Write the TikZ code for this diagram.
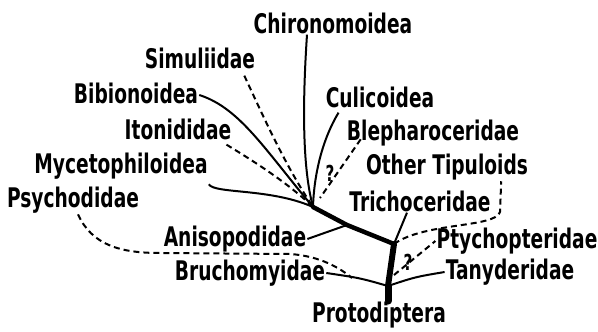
\documentclass[tikz,border=0pt]{standalone}
\usepackage{fontspec}
\setmainfont{DejaVu Sans}[FakeStretch=0.69]
\begin{document}
\begin{tikzpicture}[x=1pt,y=-1pt, every node/.style={font=\fontsize{27}{31}\selectfont\bfseries,inner sep=1pt},
  stem/.style={line width=6pt,line cap=round},
  bough/.style={line width=4.5pt,line cap=round,line join=round},
  twig/.style={line width=2pt},
  guess/.style={line width=2pt,dash pattern=on 6pt off 4pt},
  qm/.style={font=\fontsize{22}{26}\selectfont\bfseries}]
  \useasboundingbox (0,0) rectangle (598,332);
  % labels
  \node (chiro) at (333,23) {Chironomoidea};
  \node (simu) at (200,58) {Simuliidae};
  \node (bibio) at (136,93) {Bibionoidea};
  \node (culi) at (380,97) {Culicoidea};
  \node (itoni) at (178,129) {Itonididae};
  \node (bleph) at (433,133) {Blepharoceridae};
  \node (myceto) at (121,166) {Mycetophiloidea};
  \node (other) at (447,167) {Other Tipuloids};
  \node (psycho) at (73,200) {Psychodidae};
  \node (tricho) at (420,201) {Trichoceridae};
  \node (aniso) at (235,239) {Anisopodidae};
  \node (ptycho) at (517,241) {Ptychopteridae};
  \node (bruch) at (250,273) {Bruchomyidae};
  \node (tany) at (510,272) {Tanyderidae};
  \node (proto) at (379,315) {Protodiptera};
  \node[qm] (qa) at (330,173) {?};
  \node[qm] (qb) at (408,262) {?};
  % branch points
  \coordinate (root) at (388,301);
  \coordinate (base) at (388,286);
  \coordinate (fork) at (394,244);
  \coordinate (ajoin) at (347,225);
  \coordinate (hub) at (313,207);
  \coordinate (meet) at (352,278);
  % trunk
  \draw[stem,line width=7pt] (root) -- (base);
  \draw[stem] (base) -- (fork);
  \draw[bough] (fork) -- (ajoin) -- (hub);
  % around the hub
  \draw[twig] ([xshift=-26pt]chiro.south) .. controls (302,110) and (303,170) .. (hub);
  \draw[twig] ([xshift=14pt,yshift=-4pt]culi.south west) .. controls (322,140) and (314,175) .. (hub);
  \draw[guess] ([xshift=15pt,yshift=8pt]bleph.south west) -- (320,198);
  \draw[guess] ([xshift=-12pt,yshift=-6pt]simu.south east) .. controls (265,120) and (285,165) .. (hub);
  \draw[twig] ([yshift=-2pt]bibio.east) .. controls (240,108) and (265,150) .. (hub);
  \draw[guess] ([xshift=-6pt,yshift=-4pt]itoni.south east) .. controls (260,165) and (290,185) .. (hub);
  \draw[twig] ([yshift=-4pt]myceto.south east) .. controls (215,194) and (270,188) .. (hub);
  % lower branches
  \draw[twig] (aniso.east) -- (ajoin);
  \draw[twig] ([xshift=-13pt]tricho.south) -- (fork);
  \draw[guess] (fork) .. controls (425,222) and (495,228) .. (500,212) -- ([xshift=-28pt]other.south east);
  \draw[guess] (394,275) -- (ptycho.west);
  \draw[twig] (base) .. controls (415,277) .. (tany.west);
  \draw[twig] (bruch.east) .. controls (360,278) .. (base);
  \draw[guess] ([xshift=5pt]psycho.south) .. controls (92,245) and (120,253) .. (160,253) -- (290,254) .. controls (320,256) and (340,268) .. (meet);
\end{tikzpicture}
\end{document}
